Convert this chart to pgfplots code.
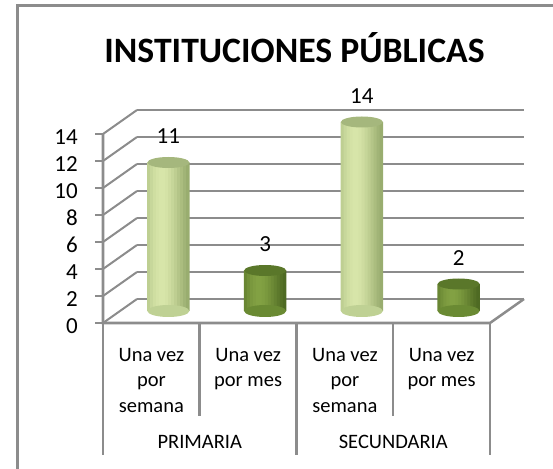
\documentclass[border=0pt]{standalone}
\usepackage{pgfplots}
\pgfplotsset{compat=1.18}
\usepackage{fontspec}
\setmainfont{Carlito}
\definecolor{gridc}{HTML}{8C8C8C}
\definecolor{lgL}{HTML}{ADC083}
\definecolor{lgM}{HTML}{D7E5A9}
\definecolor{lgR}{HTML}{94A86A}
\definecolor{lgT}{HTML}{A5B77D}
\definecolor{lgB}{HTML}{BFD194}
\definecolor{dgL}{HTML}{587428}
\definecolor{dgM}{HTML}{82A143}
\definecolor{dgR}{HTML}{4A6520}
\definecolor{dgT}{HTML}{5A772A}
\definecolor{dgB}{HTML}{6A8A33}
\newcommand{\titlefont}{\fontsize{35.7bp}{40bp}\bfseries\selectfont}
\newcommand{\tickfont}{\fontsize{23bp}{27bp}\selectfont}
\newcommand{\catfont}{\fontsize{20.5bp}{25.5bp}\selectfont}
\pgfdeclareplotmark{cyltop}{\pgfpathellipse{\pgfpointorigin}{\pgfqpoint{21bp}{0pt}}{\pgfqpoint{0pt}{5.5bp}}\pgfusepathqfill}
\pgfdeclareplotmark{cylbot}{\pgfpathellipse{\pgfpointorigin}{\pgfqpoint{21bp}{0pt}}{\pgfqpoint{0pt}{6bp}}\pgfusepathqfill}
\pgfplotsset{
  /pgf/number format/assume math mode=true,
  common/.style={scale only axis, width=387bp, height=189bp,
    xmin=0, xmax=4, ymin=0, ymax=14, anchor=south west, clip=false},
}
\begin{document}
\begin{tikzpicture}
\useasboundingbox (0,0) rectangle (553bp,469bp);
% outer frame
\draw[gridc, line width=3bp] (17bp,-10bp) -- (17bp,463bp) -- (570bp,463bp);
% title
\node[font=\titlefont, anchor=base] at (294.5bp,406bp) {INSTITUCIONES PÚBLICAS};
% back wall
\begin{axis}[common, at={(137bp,170bp)},
  axis line style={draw=none}, xtick=\empty, ytick={0,2,...,14},
  yticklabels={}, major tick length=0pt, tick style={draw=none},
  ymajorgrids, major grid style={gridc, line width=2.5bp}]
\end{axis}
% bars at mid depth
\begin{axis}[common, at={(120bp,158bp)}, hide axis]
\addplot[only marks, mark=cylbot, color=lgB, fill=lgB] coordinates {(0.5,0) (2.5,0)};
\addplot[only marks, mark=cylbot, color=dgB, fill=dgB] coordinates {(1.5,0) (3.5,0)};
\foreach \s/\e/\p in {-19.5/L/40,-16.5/L/62,-13.5/L/80,-10.5/L/92,-7.5/L/100,-4.5/L/100,-1.5/R/95,1.5/R/86,4.5/R/75,7.5/R/62,10.5/R/48,13.5/R/34,16.5/R/20,19.5/R/8}{
  \edef\temp{\noexpand\addplot[ybar, bar width=3.4bp, bar shift=\s bp, draw=none, fill=lgM!\p!lg\e] coordinates {(0.5,11) (2.5,14)};}
  \temp
  \edef\temp{\noexpand\addplot[ybar, bar width=3.4bp, bar shift=\s bp, draw=none, fill=dgM!\p!dg\e] coordinates {(1.5,3) (3.5,2)};}
  \temp
}
\addplot[only marks, mark=cyltop, color=lgT, fill=lgT, nodes near coords,
  every node near coord/.append style={anchor=center, yshift=26bp, font=\tickfont, text=black}] coordinates {(0.5,11) (2.5,14)};
\addplot[only marks, mark=cyltop, color=dgT, fill=dgT, nodes near coords,
  every node near coord/.append style={anchor=center, yshift=26bp, font=\tickfont, text=black}] coordinates {(1.5,3) (3.5,2)};
\end{axis}
% front plane: ticks, labels, floor
\begin{axis}[common, at={(103bp,146bp)},
  axis line style={draw=none},
  ytick={0,2,...,14}, ytick pos=left, tick align=outside, major tick length=8bp,
  ytick style={gridc, line width=2.5bp},
  yticklabel style={font=\tickfont, anchor=east, inner sep=0pt, xshift=-17bp, yshift=-3bp},
  xtick={0.5,1.5,2.5,3.5}, xtick pos=bottom, xtick style={draw=none},
  xticklabels={{Una vez\\por\\semana},{Una vez\\por mes},{Una vez\\por\\semana},{Una vez\\por mes}},
  xticklabel style={font=\catfont, align=center, anchor=north, inner sep=0pt, yshift=-17bp},
  xticklabel shift=0pt]
\draw[gridc, line width=2.5bp] (axis cs:0,14) -- (axis cs:0,0) -- (axis cs:4,0) -- ++(34bp,24bp);
\pgfplotsinvokeforeach{0,2,4,6,8,10,12,14}{\draw[gridc, line width=2bp] (axis cs:0,#1) -- ++(34bp,24bp);}
\draw[gridc, line width=2.5bp] (axis cs:0,0) -- ++(0,-132bp);
\draw[gridc, line width=2.5bp] (axis cs:2,0) -- ++(0,-132bp);
\draw[gridc, line width=2.5bp] (axis cs:4,0) -- ++(0,-132bp);
\draw[gridc, line width=2.5bp] (axis cs:1,0) -- ++(0,-93bp);
\draw[gridc, line width=2.5bp] (axis cs:3,0) -- ++(0,-93bp);
\node[font=\catfont, anchor=base] at (axis cs:1,0) [yshift=-125bp] {PRIMARIA};
\node[font=\catfont, anchor=base] at (axis cs:3,0) [yshift=-125bp] {SECUNDARIA};
\end{axis}
\end{tikzpicture}
\end{document}
